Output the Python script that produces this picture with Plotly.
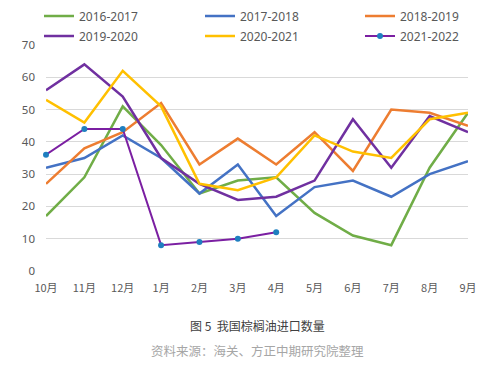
import plotly.graph_objects as go

months = ["10月", "11月", "12月", "1月", "2月", "3月", "4月", "5月", "6月", "7月", "8月", "9月"]
s1617 = [17, 29, 51, 39, 24, 28, 29, 18, 11, 8, 32, 49]
s1718 = [32, 35, 42, 35, 24, 33, 17, 26, 28, 23, 30, 34]
s1819 = [27, 38, 43, 52, 33, 41, 33, 43, 31, 50, 49, 45]
s1920 = [56, 64, 54, 35, 27, 22, 23, 28, 47, 32, 48, 43]
s2021 = [53, 46, 62, 51, 27, 25, 29, 42, 37, 35, 47, 49]
s2122 = [36, 44, 44, 8, 9, 10, 12]

W, H = 500, 368
x = list(range(len(months)))
fig = go.Figure()
series = [
    ("2016-2017", s1617, "#70AD47"),
    ("2017-2018", s1718, "#4472C4"),
    ("2018-2019", s1819, "#ED7D31"),
    ("2019-2020", s1920, "#7030A0"),
    ("2020-2021", s2021, "#FFC000"),
]
legend_pos = [(31, 8), (192, 8), (352, 8), (31, 28), (192, 28), (352, 28)]
for i, (name, vals, col) in enumerate(series):
    fig.add_trace(go.Scatter(x=x[:len(vals)], y=vals, name=name, mode="lines",
                             line=dict(color=col, width=2.5), cliponaxis=False,
                             legend="legend" if i == 0 else f"legend{i+1}"))
fig.add_trace(go.Scatter(x=x[:len(s2122)], y=s2122, name="2021-2022", mode="lines+markers",
                         line=dict(color="#7B1FA2", width=2), legend="legend6",
                         marker=dict(color="#1F7FC0", size=6), cliponaxis=False))

legends = {}
for i, (px, py) in enumerate(legend_pos):
    key = "legend" if i == 0 else f"legend{i+1}"
    legends[key] = dict(orientation="h", xref="container", yref="container",
                        x=px / W, y=1 - py / H, xanchor="left", yanchor="middle",
                        font=dict(size=12, color="#595959"),
                        itemwidth=30, bgcolor="rgba(0,0,0,0)")

fig.update_layout(
    width=W, height=H,
    margin=dict(l=38, r=40, t=37, b=105, autoexpand=False),
    paper_bgcolor="white", plot_bgcolor="white",
    font=dict(family="Noto Sans, Noto Sans CJK SC", color="#595959", size=11),
    showlegend=True,
    xaxis=dict(range=[0, 11], tickmode="array", tickvals=x, ticktext=months,
               showgrid=False, zeroline=False, showline=False, ticks="",
               ticklabelstandoff=9,
               tickfont=dict(size=11, color="#595959", family="Noto Sans CJK SC")),
    yaxis=dict(range=[0, 70], dtick=10, showgrid=True, gridcolor="#D9D9D9", gridwidth=1,
               zeroline=False, showline=False, ticks="", ticklabelstandoff=10,
               tickfont=dict(size=11.5, color="#595959")),
    **legends,
)
fig.add_annotation(text="图 5  我国棕榈油进口数量", xref="paper", yref="paper",
                   x=0.5, y=-0.243, xanchor="center", yanchor="middle", showarrow=False,
                   font=dict(size=12, color="#404040", family="Noto Sans CJK SC"))
fig.add_annotation(text="资料来源：海关、方正中期研究院整理", xref="paper", yref="paper",
                   x=0.5, y=-0.35, xanchor="center", yanchor="middle", showarrow=False,
                   font=dict(size=12.5, color="#A6A6A6", family="Noto Sans CJK SC"))
fig.write_html("out.html")
